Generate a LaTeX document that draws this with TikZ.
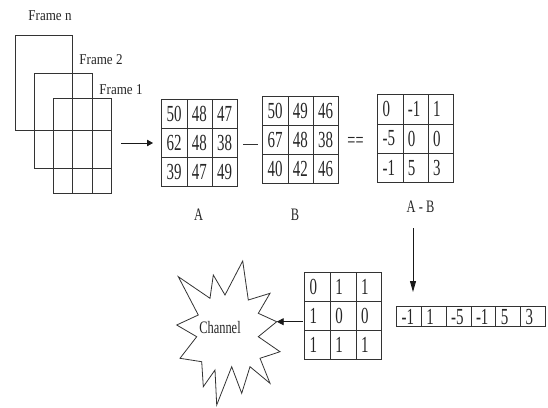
\documentclass[tikz,border=0pt]{standalone}
\usepackage{fontspec}
\setmainfont[FakeStretch=0.65]{Liberation Serif}
\newfontfamily\lblfont[FakeStretch=0.71]{Liberation Serif}
\newfontfamily\framefont[FakeStretch=0.87]{Liberation Serif}
\usetikzlibrary{matrix,arrows.meta,calc}
\tikzset{
  ln/.style={draw=black!80, line width=0.8pt},
  cellmat/.style 2 args={matrix of nodes, anchor=north west, inner sep=0pt,
    column sep=-0.8pt, row sep=-0.8pt,
    nodes={ln, text width=#1-10pt, align=left, inner xsep=5pt, inner ysep=0pt,
      minimum height=#2, anchor=center, font=\fontsize{23}{23}\selectfont, text=black!85}},
  framebox/.style={ln, anchor=north west, inner sep=0pt},
  framelbl/.style={font=\framefont\fontsize{15}{15}\selectfont, inner sep=0pt, text=black!85},
  lbl/.style={font=\lblfont\fontsize{17.5}{17.5}\selectfont, inner sep=0pt, text=black!85},
  arr/.style={line width=0.9pt, black!90},
}
\begin{document}
\begin{tikzpicture}[x=1pt,y=-1pt]
\useasboundingbox (0,0) rectangle (548,407);

% frames
\node[framebox, minimum width=57pt, minimum height=95pt] (fn) at (15,35) {};
\node[framebox, minimum width=58pt, minimum height=95pt] (f2) at (34,73) {};
\node[framebox, minimum width=58pt, minimum height=95pt] (f1) at (53,98) {};
\draw[ln] (fn.south east) -- (fn.south east |- f1.south);
\draw[ln] (f2.south east) -- (f2.south east |- f1.south);
\draw[ln] (fn.south east) -- (fn.south east -| f1.east);
\draw[ln] (f2.south east) -- (f2.south east -| f1.east);
\node[framelbl] (lfn) at (50,16) {Frame n};
\node[framelbl] (lf2) at (101,60) {Frame 2};
\node[framelbl] (lf1) at (121,90) {Frame 1};

% matrices
\matrix (A) [cellmat={25.3pt}{29pt}] at (161,99) {
50 & 48 & 47\\
62 & 48 & 38\\
39 & 47 & 49\\
};
\matrix (B) [cellmat={25.3pt}{29pt}] at (262,96) {
50 & 49 & 46\\
67 & 48 & 38\\
40 & 42 & 46\\
};
\matrix (D) [cellmat={25.3pt}{29.3pt}] at (377,94) {
0 & -1 & 1\\
-5 & 0 & 0\\
-1 & 5 & 3\\
};
\matrix (M) [cellmat={25.7pt}{29pt}] at (304,272) {
0 & 1 & 1\\
1 & 0 & 0\\
1 & 1 & 1\\
};
\matrix (R) [cellmat={24.8pt}{20pt}] at (396,306) {
-1 & 1 & -5 & -1 & 5 & 3\\
};

\draw[ln, line width=1pt] (243,144.5) coordinate (m0) -- (258,144.5) coordinate (m1);
\node[font=\fontsize{22}{22}\selectfont, inner sep=0pt, text=black!85] (eq) at (355.5,142) {==};

\node[lbl] (la) at (198.5,215) {A};
\node[lbl] (lb) at (295,215) {B};
\node[lbl] (lab) at (420.5,207) {A - B};

% channel star
\draw[ln, line join=miter] (242.7,261) -- (248.3,300) -- (270,293.3) -- (258.3,313.3)
  -- (276.7,321.7) coordinate (chtip) -- (258.3,336.7) -- (280,351.7) -- (260,358.3)
  -- (270,383.3) -- (250,366.7) -- (241.7,393.3) -- (231.7,366.7) -- (216.7,405)
  -- (215,370) -- (203.3,386.7) -- (201.7,361.7) -- (180,358.3) -- (196.7,336.7)
  -- (176.7,325) -- (198.3,315) -- (178.3,276.7) -- (210,298.3) -- (213.3,275)
  -- (225,295) -- cycle;
\node[lbl] (ch) at (220,328) {Channel};

% connectors
\coordinate (fa) at (121,143);
\draw[arr, -{Triangle[length=6pt,width=6.5pt]}, shorten >=8pt] (fa) -- (fa -| A.west);
\coordinate (d0) at (413,228);
\draw[arr, -{Triangle[length=11pt,width=6pt]}, shorten >=14pt] (d0) -- (d0 |- R.north);
\coordinate (mstart) at ($(M.west |- chtip)+(-1,0)$);
\draw[arr, -{Triangle[length=7pt,width=7pt]}] (mstart) -- (chtip);
\end{tikzpicture}
\end{document}
